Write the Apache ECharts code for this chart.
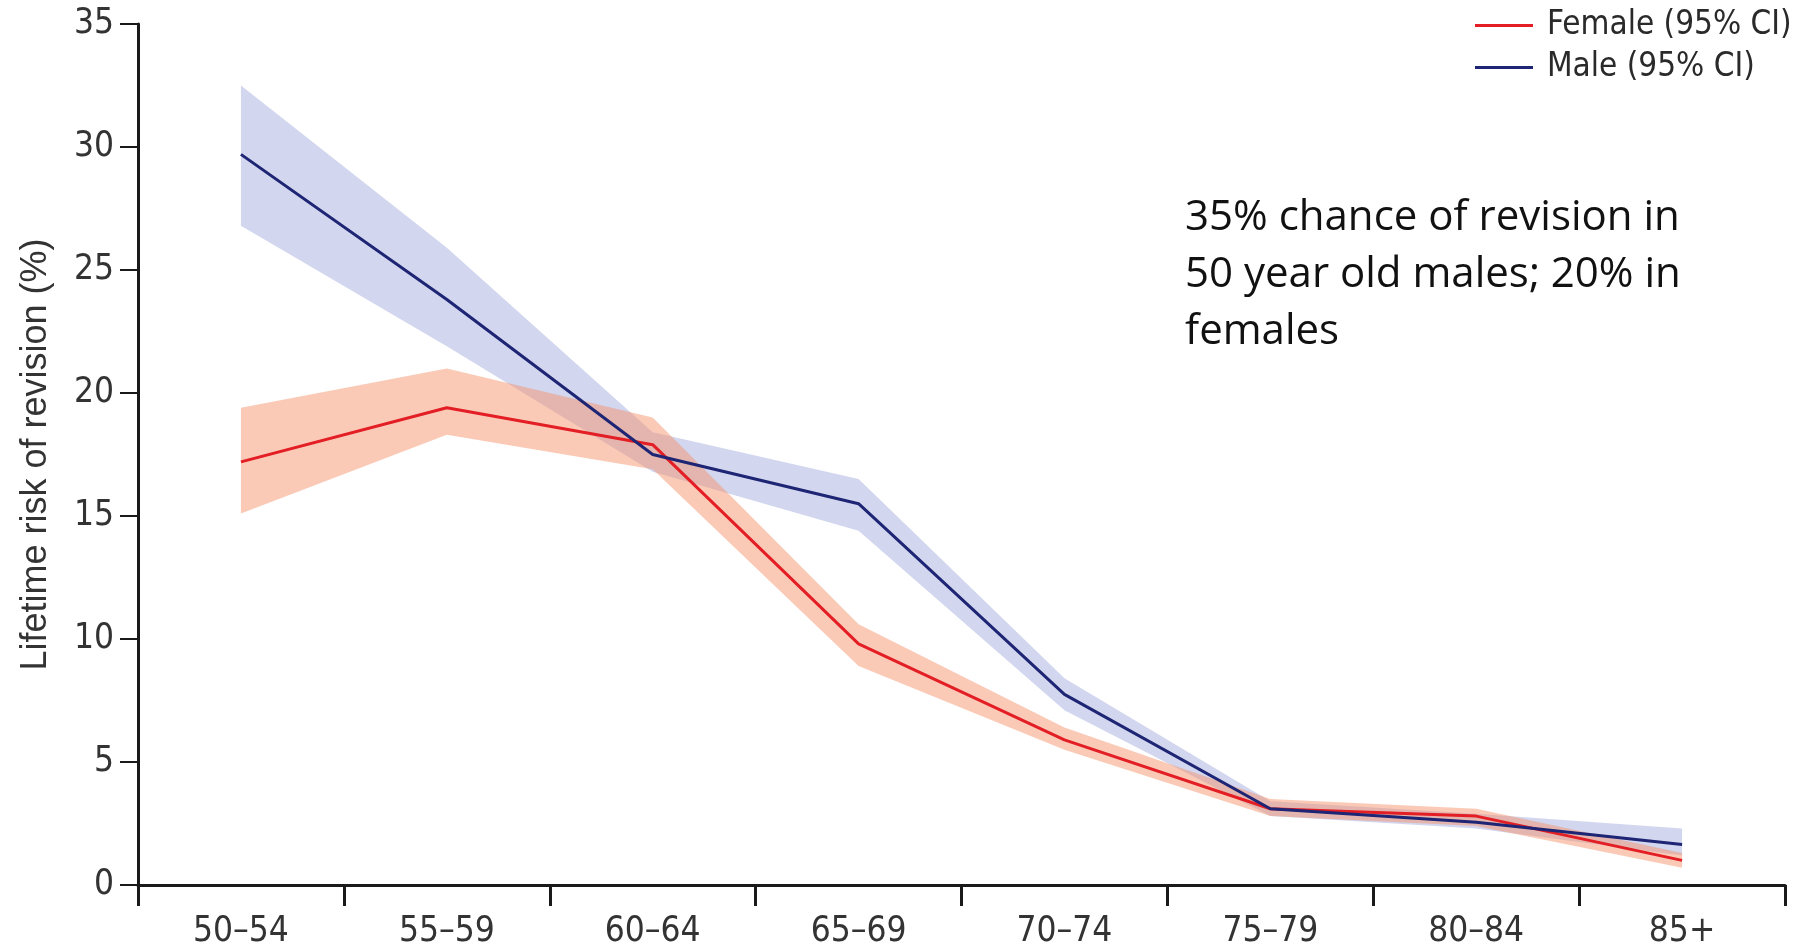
<!DOCTYPE html>
<html>
<head>
<meta charset="utf-8">
<title>Lifetime risk of revision</title>
<script src="https://cdn.jsdelivr.net/npm/echarts@6/dist/echarts.min.js"></script>
<style>
  html, body { margin: 0; padding: 0; background: #fff; }
  #chart { width: 1804px; height: 949px; }
</style>
</head>
<body>
<div id="chart"></div>
<script>
// Age groups (x axis)
const ageGroups = ['50–54', '55–59', '60–64', '65–69', '70–74', '75–79', '80–84', '85+'];

// Female lifetime risk (%) and 95% CI
const femaleRisk  = [17.2, 19.4, 17.9, 9.8, 5.9, 3.1, 2.8, 1.0];
const femaleLower = [15.1, 18.3, 16.9, 8.9, 5.5, 2.8, 2.4, 0.7];
const femaleUpper = [19.4, 21.0, 19.0, 10.6, 6.4, 3.5, 3.1, 1.3];

// Male lifetime risk (%) and 95% CI
const maleRisk  = [29.7, 23.8, 17.5, 15.5, 7.75, 3.1, 2.55, 1.65];
const maleLower = [26.8, 21.9, 16.8, 14.4, 7.1, 2.8, 2.3, 1.2];
const maleUpper = [32.5, 25.9, 18.4, 16.5, 8.4, 3.4, 2.9, 2.3];

// y axis ticks
const yTicks = [0, 5, 10, 15, 20, 25, 30, 35];

const noteLines = ['35% chance of revision in', '50 year old males; 20% in', 'females'];

const narrowFont = "'DejaVu Sans Condensed', 'Liberation Sans Narrow', sans-serif";
const axisColor = '#1a1a1a';

// band = lower (invisible) + (upper - lower) stacked on top
const bandWidth = (lo, hi) => hi.map((v, i) => +(v - lo[i]).toFixed(3));

let chart = echarts.init(document.getElementById('chart'));

let option = {
    animation: false,
    grid: { left: 138, right: 19, top: 24, bottom: 61 },
    legend: {
        orient: 'vertical',
        left: 1470,
        top: 4,
        itemGap: 9,
        icon: 'rect',
        itemWidth: 58,
        itemHeight: 3,
        data: ['Female (95% CI)', 'Male (95% CI)'],
        textStyle: {
            fontFamily: narrowFont,
            fontSize: 33,
            color: '#2a2a2a',
            padding: [0, 0, 0, 9]
        }
    },
    xAxis: {
        type: 'category',
        data: ageGroups,
        boundaryGap: true,
        axisLine: { lineStyle: { color: axisColor, width: 3 } },
        axisTick: { show: true, length: 21, lineStyle: { color: axisColor, width: 3 } },
        axisLabel: {
            margin: 29,
            fontFamily: narrowFont,
            fontSize: 35,
            color: '#333'
        }
    },
    yAxis: {
        type: 'value',
        min: yTicks[0],
        max: yTicks[yTicks.length - 1],
        interval: 5,
        name: 'Lifetime risk of revision (%)',
        nameLocation: 'middle',
        nameGap: 84,
        nameTextStyle: {
            fontFamily: "'Liberation Sans', sans-serif",
            fontSize: 36,
            color: '#333'
        },
        axisLine: { show: true, lineStyle: { color: axisColor, width: 3 } },
        axisTick: { show: true, length: 18, lineStyle: { color: axisColor, width: 2 } },
        splitLine: { show: false },
        axisLabel: {
            margin: 24,
            fontFamily: narrowFont,
            fontSize: 35,
            color: '#333'
        }
    },
    graphic: [{
        type: 'text',
        left: 1185,
        top: 190,
        style: {
            text: noteLines.join('\n'),
            font: "42px 'Open Sans', sans-serif",
            lineHeight: 57,
            fill: '#111'
        }
    }],
    series: [
        // male CI band
        {
            name: 'maleLow', type: 'line', stack: 'male', data: maleLower,
            symbol: 'none', lineStyle: { opacity: 0 }, silent: true
        },
        {
            name: 'maleBand', type: 'line', stack: 'male', data: bandWidth(maleLower, maleUpper),
            symbol: 'none', lineStyle: { opacity: 0 }, silent: true,
            areaStyle: { color: 'rgb(165,173,221)', opacity: 0.5 }
        },
        // female CI band
        {
            name: 'femaleLow', type: 'line', stack: 'female', data: femaleLower,
            symbol: 'none', lineStyle: { opacity: 0 }, silent: true
        },
        {
            name: 'femaleBand', type: 'line', stack: 'female', data: bandWidth(femaleLower, femaleUpper),
            symbol: 'none', lineStyle: { opacity: 0 }, silent: true,
            areaStyle: { color: 'rgb(246,150,112)', opacity: 0.5 }
        },
        // lines
        {
            name: 'Female (95% CI)', type: 'line', data: femaleRisk,
            symbol: 'none', color: '#e31e24', lineStyle: { width: 3 }
        },
        {
            name: 'Male (95% CI)', type: 'line', data: maleRisk,
            symbol: 'none', color: '#1d2574', lineStyle: { width: 3 }
        }
    ]
};

chart.setOption(option);
</script>
</body>
</html>
